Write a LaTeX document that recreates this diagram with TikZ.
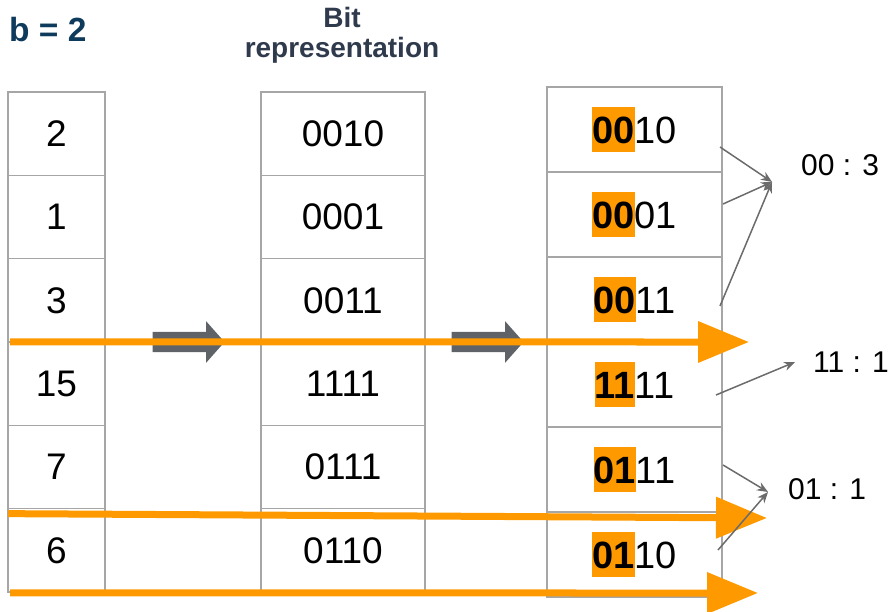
\documentclass[tikz,border=0pt]{standalone}
\usepackage{fontspec}
\setmainfont{Liberation Sans}
\usetikzlibrary{arrows.meta,shapes.arrows}

\definecolor{hlorange}{HTML}{FF9900}
\definecolor{gridgray}{HTML}{A6A6A6}
\definecolor{blockgray}{HTML}{5F6368}
\definecolor{linkgray}{HTML}{6B6B6B}
\definecolor{titleblue}{HTML}{0E3A5B}
\definecolor{headgray}{HTML}{2F3A4C}

% orange marker behind the leading bits
\newcommand{\hl}[1]{{\setlength{\fboxsep}{0pt}\colorbox{hlorange}{\rule[-0.21em]{0pt}{1.16em}\bfseries #1}}}

\tikzset{
  cell/.style={draw=gridgray, line width=1.5pt, outer sep=0pt, inner sep=0pt, minimum height=83.33pt},
  numcell/.style={cell, minimum width=97pt, font=\fontsize{37}{44}\selectfont},
  bitcell/.style={cell, minimum width=164pt, font=\fontsize{37}{44}\selectfont},
  keycell/.style={cell, minimum width=175pt, minimum height=85pt, font=\fontsize{38}{46}\selectfont},
  shiftarrow/.style={single arrow, fill=blockgray, inner sep=10pt, minimum height=72pt,
    single arrow head extend=10.5pt, single arrow tip angle=97, single arrow head indent=0pt},
  scan/.style={draw=hlorange, line width=7pt, -{Triangle[length=51pt,width=40pt]}},
  link/.style={draw=linkgray, line width=1.5pt, -{Stealth[length=11pt,width=9pt]}},
  count/.style={inner sep=0pt, anchor=west, font=\fontsize{30}{36}\selectfont}
}

\begin{document}
\begin{tikzpicture}[x=1pt,y=-1pt]
\useasboundingbox (0,0) rectangle (891,612);

\node[font=\bfseries\fontsize{33.5}{40}\selectfont, text=titleblue, anchor=base west, inner sep=0pt] (bval) at (9,42) {b = 2};
\node[font=\bfseries\fontsize{28}{30}\selectfont, text=headgray, align=center, anchor=base, inner sep=0pt] (head) at (342,58) {Bit\\representation};

% the three columns
\foreach \v [count=\i] in {2,1,3,15,7,6}
  \node[numcell] (n\i) at (56.5,{92+83.33*(\i-0.5)}) {\v};
\foreach \v [count=\i] in {0010,0001,0011,1111,0111,0110}
  \node[bitcell] (b\i) at (343,{92+83.33*(\i-0.5)}) {\v};
\foreach \p/\s [count=\i] in {00/10,00/01,00/11,11/11,01/11,01/10}
  \node[keycell] (k\i) at (634.5,{87+85*(\i-0.5)}) {\hl{\p}\s};

\node[shiftarrow] (s1) at (184,342) {};
\node[shiftarrow] (s2) at (483,342) {};

% bucket counts
\node[count] (c00) at (801,165) {00 : 3};
\node[count] (c11) at (813,362) {11 : 1};
\node[count] (c01) at (788,489) {01 : 1};
\coordinate (h00) at (772,182);
\coordinate (h11) at (795,362);
\coordinate (h01) at (768,492);

% scan lines
\coordinate (e1) at (749,342);
\coordinate (e2) at (767,518);
\coordinate (e3) at (758,593);
\draw[scan] ([xshift=2pt]n3.south west) -- (e1);
\draw[scan] ([yshift=-5pt]n5.south west) -- (e2);
\draw[scan] ([xshift=2pt,yshift=-1pt]n6.south west) -- (e3);

\draw[link] ([xshift=-2pt,yshift=-17.5pt]k1.east) -- (h00);
\draw[link] ([xshift=1pt,yshift=10.5pt]k2.east) -- (h00);
\draw[link] ([xshift=-2pt,yshift=-6.5pt]k3.east) -- (h00);
\draw[link] ([xshift=-6pt,yshift=-10.5pt]k4.east) -- (h11);
\draw[link] ([xshift=1pt,yshift=4.5pt]k5.east) -- (h01);
\draw[link] ([xshift=-4pt,yshift=4.5pt]k6.east) -- (h01);
\end{tikzpicture}
\end{document}
